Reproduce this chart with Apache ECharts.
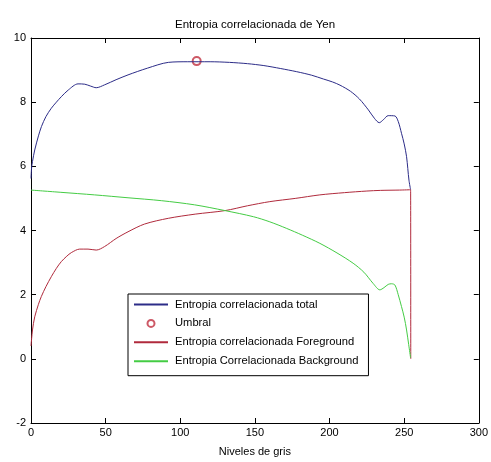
<!DOCTYPE html>
<html>
<head>
<meta charset="utf-8">
<script src="https://cdn.jsdelivr.net/npm/echarts@6/dist/echarts.min.js"></script>
<style>html,body{margin:0;padding:0;background:#fff}#c{width:491px;height:462px}</style>
</head>
<body>
<div id="c"></div>
<script>
var titleText = 'Entropia correlacionada de Yen';
var xAxisName = 'Niveles de gris';
var seriesNames = ['Entropia correlacionada total', 'Umbral', 'Entropia correlacionada Foreground', 'Entropia Correlacionada Background'];

var totalX = [0, 0.4, 1, 2.5, 5, 7, 10, 13.6, 17, 20.3, 25, 31.5, 36, 40, 43.7, 49.3, 57, 65, 78, 92, 105, 120, 133, 145, 156, 167, 178, 188, 196, 202, 207, 214, 220, 226, 230, 233.3, 236, 239.3, 243.8, 246, 248.2, 250, 251.6, 253.2, 254.3];
var totalY = [5.62, 5.95, 6.15, 6.51, 6.95, 7.24, 7.55, 7.81, 8.0, 8.17, 8.38, 8.57, 8.56, 8.5, 8.45, 8.54, 8.7, 8.85, 9.06, 9.24, 9.26, 9.26, 9.24, 9.2, 9.14, 9.05, 8.95, 8.84, 8.72, 8.63, 8.53, 8.34, 8.1, 7.76, 7.5, 7.36, 7.45, 7.58, 7.57, 7.4, 7.03, 6.7, 6.3, 5.57, 5.27];

var umbralX = [111];
var umbralY = [9.28];

var foreX = [0, 1, 2.5, 5, 6.9, 10, 13.6, 17, 20.3, 24, 27, 32.6, 38.2, 43.7, 49.3, 57, 65, 76, 92, 110, 130, 145, 160, 177, 193.5, 210, 225, 234, 247, 254.3, 254.4];
var foreY = [0.4, 0.9, 1.31, 1.7, 1.94, 2.25, 2.56, 2.82, 3.03, 3.2, 3.31, 3.42, 3.42, 3.39, 3.5, 3.75, 3.96, 4.2, 4.38, 4.51, 4.62, 4.77, 4.9, 5.0, 5.11, 5.18, 5.23, 5.25, 5.26, 5.27, 0.0];

var backX = [0, 20, 42.6, 65, 87.3, 109.6, 130, 149, 160, 171, 182, 193.5, 205, 215.8, 223, 229.2, 233.7, 236.5, 239.3, 241.5, 243.8, 246, 248.2, 250, 251.6, 253, 254.3];
var backY = [5.26, 5.19, 5.11, 5.02, 4.93, 4.8, 4.62, 4.43, 4.27, 4.07, 3.85, 3.6, 3.3, 2.98, 2.7, 2.35, 2.15, 2.22, 2.32, 2.34, 2.3, 2.0, 1.63, 1.3, 0.9, 0.45, 0.03];

function pairs(xs, ys) { return xs.map(function (x, i) { return [x, ys[i]]; }); }

var FONT = 'Liberation Sans, Arial, sans-serif';
var chart = echarts.init(document.getElementById('c'), null, { renderer: 'canvas' });

var baseAxis = {
  axisLine: { show: true, onZero: false, lineStyle: { color: '#000', width: 1 } },
  axisTick: { show: true, inside: true, length: 5, lineStyle: { color: '#000' } },
  splitLine: { show: false }
};

chart.setOption({
  backgroundColor: '#fff',
  animation: false,
  title: {
    text: titleText, left: 175, top: 19, padding: 0,
    textStyle: { fontFamily: FONT, fontSize: 11.5, fontWeight: 'normal', color: '#000' }
  },
  grid: { left: 31, right: 12, top: 38, bottom: 39, containLabel: false },
  xAxis: [
    Object.assign({}, baseAxis, {
      type: 'value', min: 0, max: 300, interval: 50, position: 'bottom',
      name: xAxisName, nameLocation: 'middle', nameGap: 23,
      nameTextStyle: { fontFamily: FONT, fontSize: 11, color: '#000' },
      axisLabel: { fontFamily: FONT, fontSize: 11, color: '#000', margin: 4 }
    }),
    Object.assign({}, baseAxis, {
      type: 'value', min: 0, max: 300, interval: 50, position: 'top',
      axisLabel: { show: false }
    })
  ],
  yAxis: [
    Object.assign({}, baseAxis, {
      type: 'value', min: -2, max: 10, interval: 2, position: 'left',
      axisLabel: { fontFamily: FONT, fontSize: 11, color: '#000', margin: 5 }
    }),
    Object.assign({}, baseAxis, {
      type: 'value', min: -2, max: 10, interval: 2, position: 'right',
      axisLabel: { show: false }
    })
  ],
  legend: {
    orient: 'vertical', left: 128, top: 294,
    padding: [5, 10, 9, 5], itemGap: 7.9, itemWidth: 34, itemHeight: 7,
    backgroundColor: '#fff', borderColor: '#000', borderWidth: 1, borderRadius: 0,
    textStyle: { fontFamily: FONT, fontSize: 11.2, color: '#000', padding: [0, 0, 0, 2] },
    data: [
      { name: seriesNames[0], itemStyle: { opacity: 0 } },
      { name: seriesNames[1], icon: 'emptyCircle' },
      { name: seriesNames[2], itemStyle: { opacity: 0 } },
      { name: seriesNames[3], itemStyle: { opacity: 0 } }
    ]
  },
  series: [
    {
      name: seriesNames[0], type: 'line', data: pairs(totalX, totalY),
      symbol: 'none', smooth: 0.3,
      lineStyle: { color: '#2c2c88', width: 1 }, itemStyle: { color: '#2c2c88' }
    },
    {
      name: seriesNames[1], type: 'scatter', data: pairs(umbralX, umbralY),
      symbol: 'emptyCircle', symbolSize: 8,
      itemStyle: { color: '#c03040', borderColor: '#c03040', borderWidth: 1 }
    },
    {
      name: seriesNames[2], type: 'line', data: pairs(foreX, foreY),
      symbol: 'none', smooth: 0.3,
      lineStyle: { color: '#b02a3c', width: 1 }, itemStyle: { color: '#b02a3c' }
    },
    {
      name: seriesNames[3], type: 'line', data: pairs(backX, backY),
      symbol: 'none', smooth: 0.3,
      lineStyle: { color: '#44cc44', width: 1 }, itemStyle: { color: '#44cc44' }
    }
  ]
});
</script>
</body>
</html>
